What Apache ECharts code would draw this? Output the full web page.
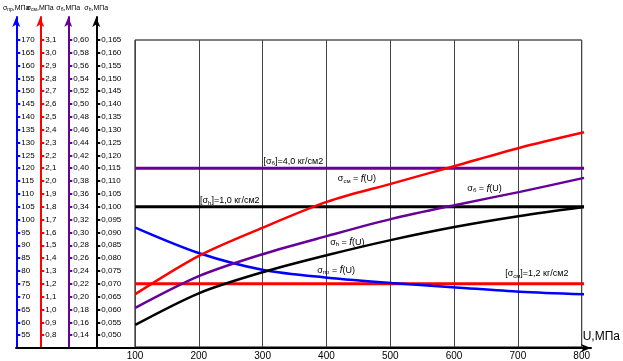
<!DOCTYPE html>
<html><head><meta charset="utf-8">
<script src="https://cdn.jsdelivr.net/npm/echarts@6/dist/echarts.min.js"></script>
<style>html,body{margin:0;padding:0;background:#fff}#c{width:623px;height:361px}</style>
</head><body><div id="c"></div>
<script>
// ---- data ----
const U = [100, 200, 300, 400, 500, 600, 700, 800];
const sigmaPr = [96.9, 86.9, 80.4, 77.4, 75.3, 73.6, 71.9, 70.9];            // blue, МПа
const sigmaSm = [1.12, 1.42, 1.64, 1.84, 1.98, 2.12, 2.26, 2.38];            // red
const sigmaB  = [0.1824, 0.2322, 0.2665, 0.2946, 0.3211, 0.3429, 0.3632, 0.3850]; // purple
const sigmaH  = [0.0540, 0.0664, 0.0746, 0.0812, 0.0871, 0.0922, 0.0964, 0.0999]; // black
const limitSm = 1.2;   // [σсм]=1,2 кг/см2
const limitH  = 0.100; // [σh]=1,0 кг/см2
const limitB  = 0.40;  // [σб]=4,0 кг/см2
const xTicks = [100, 200, 300, 400, 500, 600, 700, 800];
const ticksPr = [55,60,65,70,75,80,85,90,95,100,105,110,115,120,125,130,135,140,145,150,155,160,165,170];
const ticksSm = [0.8,0.9,1.0,1.1,1.2,1.3,1.4,1.5,1.6,1.7,1.8,1.9,2.0,2.1,2.2,2.3,2.4,2.5,2.6,2.7,2.8,2.9,3.0,3.1];
const ticksB  = [0.14,0.16,0.18,0.20,0.22,0.24,0.26,0.28,0.30,0.32,0.34,0.36,0.38,0.40,0.42,0.44,0.46,0.48,0.50,0.52,0.54,0.56,0.58,0.60];
const ticksH  = [0.050,0.055,0.060,0.065,0.070,0.075,0.080,0.085,0.090,0.095,0.100,0.105,0.110,0.115,0.120,0.125,0.130,0.135,0.140,0.145,0.150,0.155,0.160,0.165];
const notes = [
  {series: 'limB',  at: [300, 0.41],   text: '{n|[}{n|σ}{b|б}{n|]=4,0 кг/см2}'},
  {series: 'limH',  at: [201, 0.1023], text: '{n|[}{n|σ}{b|h}{n|]=1,0 кг/см2}'},
  {series: 'sm',    at: [416, 2.017],  text: '{n|σ}{b|см}{n| = }{i|f}{n|(U)}'},
  {series: 'h',     at: [404, 0.086],  text: '{n|σ}{b|h}{n| = }{i|f}{n|(U)}'},
  {series: 'pr',    at: [384, 80.1],   text: '{n|σ}{b|пр}{n| = }{i|f}{n|(U)}'},
  {series: 'limSm', at: [677, 1.277],  text: '{n|[}{n|σ}{b|см}{n|]=1,2 кг/см2}'},
  {series: 'b',     at: [618, 0.368],  text: '{n|σ}{b|б}{n| = }{i|f}{n|(U)}'}
];

// ---- layout / style ----
const FONT = 'Liberation Sans';
const BLUE = '#0000ff', RED = '#ff0000', PURPLE = '#660099', BLACK = '#000000';
const spanTicks = 25.78; // number of tick steps visible on each left axis
const richLbl = {
  n: {fontSize: 9, fontFamily: FONT, color: '#000'},
  b: {fontSize: 6, fontFamily: FONT, color: '#000', padding: [4, 0, 0, 0]},
  i: {fontSize: 10, fontFamily: FONT, color: '#000', fontStyle: 'italic'}
};

function yAx(color, offset, min, step, ticks, dec, nameTxt) {
  return {
    type: 'value', gridIndex: 0, position: 'left', offset: offset,
    min: min, max: min + spanTicks * step,
    axisLine: {show: true, onZero: false, lineStyle: {color: color, width: 2},
               symbol: ['none', 'arrow'], symbolSize: [6, 10]},
    axisTick: {show: true, inside: true, length: 4, lineStyle: {color: color, width: 2}, customValues: ticks},
    axisLabel: {show: true, inside: true, margin: 5, fontSize: 8, fontFamily: FONT, color: '#000',
                customValues: ticks,
                formatter: v => dec === 0 ? String(Math.round(v)) : v.toFixed(dec).replace('.', ',')},
    splitLine: {show: false},
    name: nameTxt, nameLocation: 'end', nameGap: 5,
    nameTextStyle: {rich: {
      n: {fontSize: 7, fontFamily: FONT, color: '#000'},
      b: {fontSize: 5, fontFamily: FONT, color: '#000', padding: [3, 0, 0, 0]}
    }}
  };
}

function mk(id, yIdx, xs, ys, color, width) {
  const s = {
    id: id, type: 'line', xAxisIndex: 0, yAxisIndex: yIdx,
    data: xs.map((x, i) => [x, ys[i]]),
    smooth: 0.3, symbol: 'none', lineStyle: {color: color, width: width}, z: 3,
    silent: true
  };
  const my = notes.filter(n => n.series === id);
  if (my.length) {
    s.markPoint = {
      symbol: 'circle', symbolSize: 0, silent: true,
      data: my.map(n => ({coord: n.at, label: {show: true, position: 'right', distance: 0,
        formatter: n.text, rich: richLbl}}))
    };
  }
  return s;
}

const chart = echarts.init(document.getElementById('c'), null, {renderer: 'canvas'});
chart.setOption({
  animation: false,
  backgroundColor: '#fff',
  grid: [
    {left: 135, right: 39, top: 17, bottom: 13, show: false},
    {left: 135, right: 39, top: 40, bottom: 13, show: true, borderColor: '#000', borderWidth: 1, backgroundColor: 'transparent'},
    {left: 16, right: 32, top: 17, bottom: 13, show: false}
  ],
  xAxis: [
    {type: 'value', gridIndex: 0, min: 100, max: 800, show: false},
    {type: 'value', gridIndex: 1, min: 100, max: 800, interval: 100, position: 'bottom',
     axisLine: {show: false}, axisTick: {show: false},
     axisLabel: {show: true, margin: 4, fontSize: 10, fontFamily: FONT, color: '#000', customValues: xTicks},
     splitLine: {show: true, lineStyle: {color: '#444', width: 1}},
     name: 'U,МПа', nameLocation: 'end', nameGap: 1,
     nameTextStyle: {fontSize: 12, fontFamily: FONT, color: '#000', verticalAlign: 'bottom', align: 'left', padding: [0, 0, 4, 0]}},
    {type: 'value', gridIndex: 2, min: 0, max: 1, position: 'bottom',
     axisLine: {show: true, onZero: false, lineStyle: {color: '#000', width: 2}, symbol: ['none', 'arrow'], symbolSize: [6, 10]},
     axisTick: {show: false}, axisLabel: {show: false}, splitLine: {show: false}}
  ],
  yAxis: [
    yAx(BLUE, 119, 50, 5, ticksPr, 0, '{n|σ}{b|пр}{n|,МПа}'),
    yAx(RED, 95, 0.7, 0.1, ticksSm, 1, '{n|σ}{b|см}{n|,МПа}'),
    yAx(PURPLE, 67, 0.12, 0.02, ticksB, 2, '{n|σ}{b|б}{n|,МПа}'),
    yAx(BLACK, 39, 0.045, 0.005, ticksH, 3, '{n|σ}{b|h}{n|,МПа}'),
    {type: 'value', gridIndex: 1, min: 0, max: 1, show: false},
    {type: 'value', gridIndex: 2, min: 0, max: 1, show: false}
  ],
  series: [
    mk('limB', 2, [U[0], U[U.length - 1]], [limitB, limitB], PURPLE, 3),
    mk('limH', 3, [U[0], U[U.length - 1]], [limitH, limitH], BLACK, 3),
    mk('limSm', 1, [U[0], U[U.length - 1]], [limitSm, limitSm], RED, 3),
    mk('pr', 0, U, sigmaPr, BLUE, 2.5),
    mk('sm', 1, U, sigmaSm, RED, 2.5),
    mk('b', 2, U, sigmaB, PURPLE, 2.5),
    mk('h', 3, U, sigmaH, BLACK, 2.5)
  ]
});
</script></body></html>
